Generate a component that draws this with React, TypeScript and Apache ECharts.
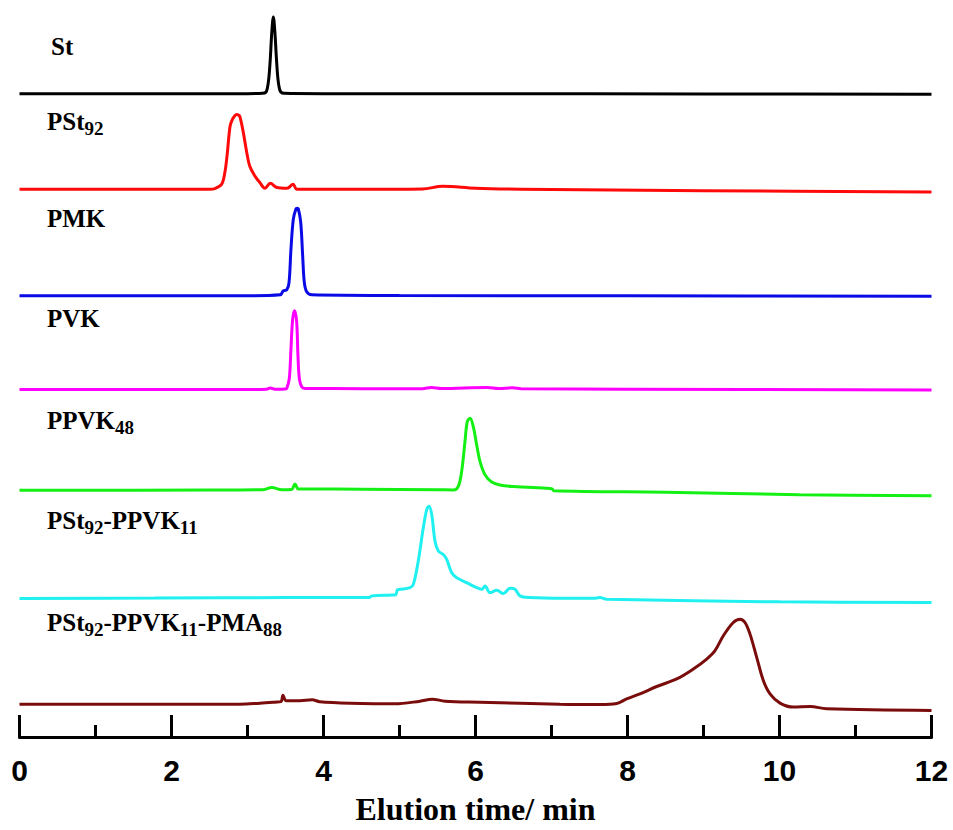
import React, { useEffect, useRef } from 'react';
import * as echarts from 'echarts';

// Elution time axis (min)
const xMin = 0;
const xMax = 12;
const xInterval = 2;
const axisTitle = 'Elution time/ min';

// Trace labels (rich text, subscripts in {s|..})
const traceLabels = [
  '{m|St}',
  '{m|PSt}{s|92}',
  '{m|PMK}',
  '{m|PVK}',
  '{m|PPVK}{s|48}',
  '{m|PSt}{s|92}{m|-PPVK}{s|11}',
  '{m|PSt}{s|92}{m|-PPVK}{s|11}{m|-PMA}{s|88}',
];

// Vertical stacking offsets of each trace (signal units)
const traceOffsets = [646, 550, 443, 349, 248, 139, 33];

// St
const stTime = [0, 1.5, 3.0, 3.2, 3.24, 3.26, 3.28, 3.3, 3.32, 3.34, 3.36, 3.38, 3.4, 3.42, 3.44, 3.48, 4.0, 6.0, 9.0, 12.0];
const stSignal = [0, 0, 0, 0.3, 1.3, 5, 15, 35, 62, 77, 62, 36, 15, 5, 1.5, 0.3, 0, 0, -0.3, -0.5];

// PSt92
const pstTime = [0, 2.0, 2.5, 2.58, 2.66, 2.7, 2.73, 2.77, 2.8, 2.836, 2.858, 2.88, 2.9, 2.945, 2.99, 3.03, 3.1, 3.16, 3.23, 3.3, 3.38, 3.52, 3.6, 3.65, 4.5, 5.3, 5.57, 6.0, 6.6, 9.0, 12.0];
const pstSignal = [0, 0, 0, 1, 5, 16, 33, 63, 70, 74, 75, 74.5, 73, 57, 37, 23, 13, 7, 1, 6, 2, 1, 5, 0, 0, 0.3, 3, 1, 0, -1.5, -2.8];

// PMK
const pmkTime = [0, 3.0, 3.43, 3.47, 3.516, 3.546, 3.572, 3.603, 3.638, 3.653, 3.668, 3.7, 3.726, 3.747, 3.779, 3.845, 5.0, 8.0, 12.0];
const pmkSignal = [0, 0, 1, 5, 6, 13, 47, 77, 87.5, 88, 87.5, 74, 40, 14, 4, 1, 0.3, 0, -0.5];

// PVK
const pvkTime = [0, 3.0, 3.25, 3.3, 3.36, 3.5, 3.516, 3.55, 3.572, 3.595, 3.621, 3.647, 3.664, 3.682, 3.713, 3.757, 4.5, 5.3, 5.42, 5.55, 6.16, 6.3, 6.49, 6.6, 8.0, 12.0];
const pvkSignal = [0, 0, 0.3, 1.5, 0.3, 0.5, 1, 11, 41, 71, 79, 67.7, 34, 11, 2.7, 1, 0.8, 0.8, 2, 1, 2, 1, 1.6, 0.8, 0.3, -0.5];

// PPVK48
const ppvkTime = [0, 2.5, 3.2, 3.32, 3.45, 3.58, 3.625, 3.67, 3.8, 4.5, 5.5, 5.708, 5.774, 5.818, 5.862, 5.892, 5.928, 5.971, 6.016, 6.059, 6.125, 6.213, 6.322, 6.497, 6.98, 7.01, 7.03, 8.5, 10.26, 12.0];
const ppvkSignal = [-0.3, 0, 0.3, 2.5, 0.3, 0.5, 6, 1, 1, 0.8, 0.3, 0, 3.7, 18.7, 49, 68.7, 72, 63.7, 45, 28.7, 15.3, 8, 5, 3.5, 1.5, 1, -0.7, -2.3, -4.7, -5.7];

// PSt92-PPVK11
const diblockTime = [0, 1.78, 3.5, 4.6, 4.64, 4.9, 4.95, 4.975, 5.007, 5.138, 5.182, 5.247, 5.313, 5.358, 5.388, 5.424, 5.467, 5.511, 5.576, 5.621, 5.687, 5.753, 5.884, 6.016, 6.082, 6.125, 6.191, 6.279, 6.366, 6.454, 6.52, 6.586, 6.717, 7.155, 7.55, 7.638, 7.726, 10.0, 12.0];
const diblockSignal = [0, 0.5, 1, 1, 2.7, 3.5, 4, 9, 9.3, 11, 14.3, 37.7, 71, 89.3, 92.7, 84.3, 57.7, 47.7, 44.3, 39.3, 26, 21, 16, 11, 9.3, 12.7, 6, 8.3, 5, 10.3, 9.3, 2.7, 1, 0.3, 0.3, 1, -0.7, -3.3, -4];

// PSt92-PPVK11-PMA88
const triblockTime = [0, 2.9, 3.164, 3.36, 3.44, 3.467, 3.507, 3.69, 3.85, 3.95, 4.35, 4.94, 5.27, 5.43, 5.6, 6.06, 7.11, 7.64, 7.858, 7.989, 8.164, 8.384, 8.647, 8.866, 9.042, 9.151, 9.261, 9.392, 9.48, 9.546, 9.612, 9.7, 9.787, 9.875, 10.007, 10.182, 10.402, 10.621, 12.0];
const triblockSignal = [0, 0, 1, 2, 2.5, 9, 3.5, 3.5, 4.3, 2.5, 1, 0.3, 3, 5, 3, 2, 0, -0.3, 0.7, 5.3, 10.3, 17.7, 25.3, 35.3, 45.3, 53.7, 68.7, 82, 85.3, 82, 70.3, 47, 23.7, 10.3, 1, -3, -2.3, -4.7, -6.3];

const traceTimes = [stTime, pstTime, pmkTime, pvkTime, ppvkTime, diblockTime, triblockTime];
const traceSignals = [stSignal, pstSignal, pmkSignal, pvkSignal, ppvkSignal, diblockSignal, triblockSignal];
const traceColors = ['#000000', '#ff0a0a', '#0a0ae6', '#ff00ff', '#14f014', '#20f0f0', '#7a0c0c'];

// layout (pixels)
const labelX = [51, 47, 47, 47, 47, 47, 47];
const labelY = [46, 121, 218, 318, 420, 520, 622];

export default function App() {
  const ref = useRef<HTMLDivElement>(null);
  useEffect(() => {
    document.body.style.margin = '0';
    const chart = echarts.init(ref.current as HTMLDivElement, null, { renderer: 'svg' });
    const serif = 'Liberation Serif, Times New Roman, serif';
    const rich = {
      m: { fontFamily: serif, fontWeight: 'bold', fontSize: 25, lineHeight: 40, color: '#000', verticalAlign: 'middle' },
      s: { fontFamily: serif, fontWeight: 'bold', fontSize: 19, lineHeight: 19, color: '#000', verticalAlign: 'middle', padding: [15, 0, 0, 0] },
    };
    const series = traceTimes.map((times, i) => ({
      type: 'line',
      name: 'trace' + i,
      showSymbol: false,
      symbol: 'none',
      smooth: 0.35,
      clip: false,
      lineStyle: { color: traceColors[i], width: 3 },
      data: times.map((t, k) => [t, traceOffsets[i] + traceSignals[i][k]]),
    }));
    const graphic = traceLabels.map((txt, i) => ({
      type: 'text',
      x: labelX[i],
      y: labelY[i],
      style: { text: txt, rich, align: 'left', verticalAlign: 'middle' },
    }));
    chart.setOption({
      animation: false,
      backgroundColor: '#ffffff',
      grid: { left: 19.5, right: 21.5, top: 10, bottom: 90, containLabel: false },
      xAxis: {
        type: 'value',
        min: xMin,
        max: xMax,
        interval: xInterval,
        name: axisTitle,
        nameLocation: 'middle',
        nameGap: 56,
        nameTextStyle: { fontFamily: serif, fontWeight: 'bold', fontSize: 32, color: '#000' },
        axisLine: { show: true, lineStyle: { color: '#000', width: 3 } },
        axisTick: { show: true, inside: true, length: 22, lineStyle: { color: '#000', width: 3 } },
        minorTick: { show: true, splitNumber: 2, length: 12, lineStyle: { color: '#000', width: 3 } },
        axisLabel: { fontFamily: 'Liberation Sans, Arial, sans-serif', fontWeight: 'bold', fontSize: 30, color: '#000', margin: 18 },
        splitLine: { show: false },
      },
      yAxis: { type: 'value', min: 0, max: 730, show: false },
      series,
      graphic,
    });
    return () => chart.dispose();
  }, []);
  return <div ref={ref} style={{ width: 953, height: 830 }} />;
}
